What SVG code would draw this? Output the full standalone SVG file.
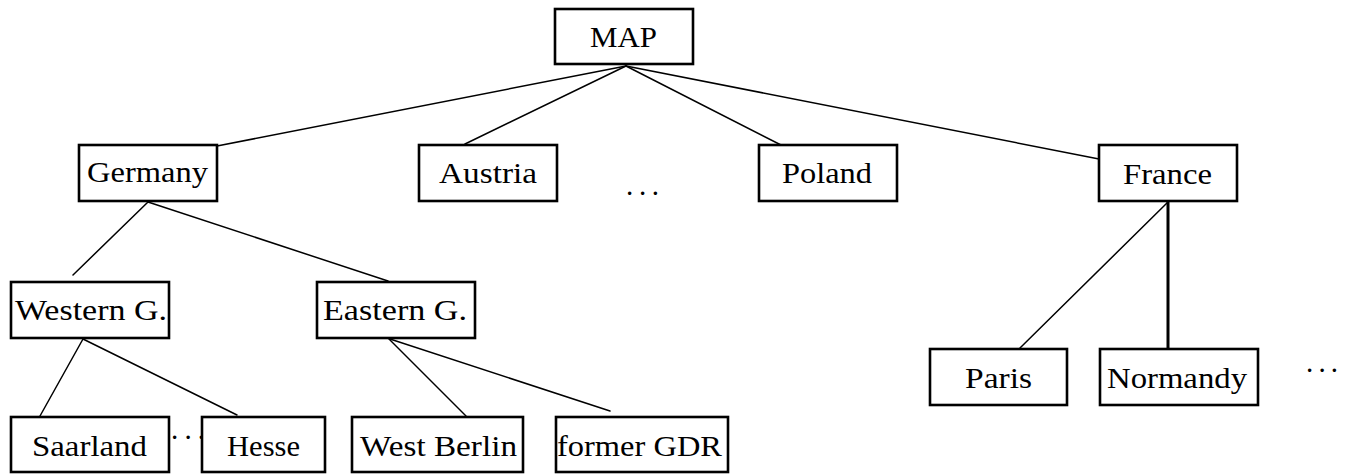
<svg xmlns="http://www.w3.org/2000/svg" width="1349" height="476" viewBox="0 0 1349 476">
<style>
.box{fill:#fff;stroke:#000;stroke-width:2.6}
.lbl{font-family:"Liberation Serif","Times New Roman",serif;font-size:29px;fill:#000}
.edge{stroke:#000;stroke-width:1.5;fill:none;stroke-linecap:round}
.thick{stroke-width:3}
</style>
<rect width="1349" height="476" fill="#fff"/>
<g id="connectors">
<line class="edge" x1="626" y1="66" x2="217" y2="146"/>
<line class="edge" x1="626" y1="66" x2="465" y2="144"/>
<line class="edge" x1="626" y1="66" x2="781" y2="145"/>
<line class="edge" x1="626" y1="66" x2="1099" y2="159"/>
<line class="edge" x1="148" y1="202" x2="73" y2="275"/>
<line class="edge" x1="148" y1="202" x2="388" y2="281"/>
<line class="edge" x1="83" y1="339" x2="40" y2="416"/>
<line class="edge" x1="83" y1="339" x2="237" y2="415"/>
<line class="edge" x1="389" y1="339" x2="466" y2="416"/>
<line class="edge" x1="390" y1="339" x2="610" y2="411"/>
<line class="edge" x1="1168" y1="202" x2="1020" y2="348"/>
<line class="edge thick" x1="1168" y1="202" x2="1168" y2="349"/>
</g>
<g id="map"><rect class="box" x="555" y="9" width="138" height="55"/><text class="lbl" x="590" y="47" textLength="67" lengthAdjust="spacingAndGlyphs">MAP</text></g>
<g id="germany"><rect class="box" x="79" y="145" width="138" height="56"/><text class="lbl" x="87" y="182" textLength="121" lengthAdjust="spacingAndGlyphs">Germany</text></g>
<g id="austria"><rect class="box" x="419" y="145" width="138" height="56"/><text class="lbl" x="439" y="183" textLength="98" lengthAdjust="spacingAndGlyphs">Austria</text></g>
<g id="ellipsis-mid"><text class="lbl" x="626" y="195" textLength="33" lengthAdjust="spacing">. . .</text></g>
<g id="poland"><rect class="box" x="759" y="145" width="138" height="56"/><text class="lbl" x="782" y="183" textLength="90" lengthAdjust="spacingAndGlyphs">Poland</text></g>
<g id="france"><rect class="box" x="1099" y="145" width="138" height="56"/><text class="lbl" x="1123" y="184" textLength="89" lengthAdjust="spacingAndGlyphs">France</text></g>
<g id="western-g"><rect class="box" x="11" y="282" width="158" height="56"/><text class="lbl" x="15" y="320" textLength="152" lengthAdjust="spacingAndGlyphs">Western G.</text></g>
<g id="eastern-g"><rect class="box" x="317" y="282" width="158" height="56"/><text class="lbl" x="323" y="320" textLength="144" lengthAdjust="spacingAndGlyphs">Eastern G.</text></g>
<g id="saarland"><rect class="box" x="11" y="417" width="158" height="55"/><text class="lbl" x="32" y="456" textLength="115" lengthAdjust="spacingAndGlyphs">Saarland</text></g>
<g id="ellipsis-low"><text class="lbl" x="171" y="439" textLength="34" lengthAdjust="spacing">. . .</text></g>
<g id="hesse"><rect class="box" x="202" y="417" width="123" height="55"/><text class="lbl" x="227" y="456" textLength="73" lengthAdjust="spacingAndGlyphs">Hesse</text></g>
<g id="west-berlin"><rect class="box" x="352" y="417" width="171" height="55"/><text class="lbl" x="360" y="456" textLength="157" lengthAdjust="spacingAndGlyphs">West Berlin</text></g>
<g id="former-gdr"><rect class="box" x="556" y="417" width="172" height="55"/><text class="lbl" x="557" y="456" textLength="165" lengthAdjust="spacingAndGlyphs">former GDR</text></g>
<g id="paris"><rect class="box" x="930" y="349" width="137" height="56"/><text class="lbl" x="965" y="388" textLength="67" lengthAdjust="spacingAndGlyphs">Paris</text></g>
<g id="normandy"><rect class="box" x="1100" y="349" width="158" height="56"/><text class="lbl" x="1107" y="388" textLength="140" lengthAdjust="spacingAndGlyphs">Normandy</text></g>
<g id="ellipsis-right"><text class="lbl" x="1306" y="372" textLength="32" lengthAdjust="spacing">. . .</text></g>
</svg>
